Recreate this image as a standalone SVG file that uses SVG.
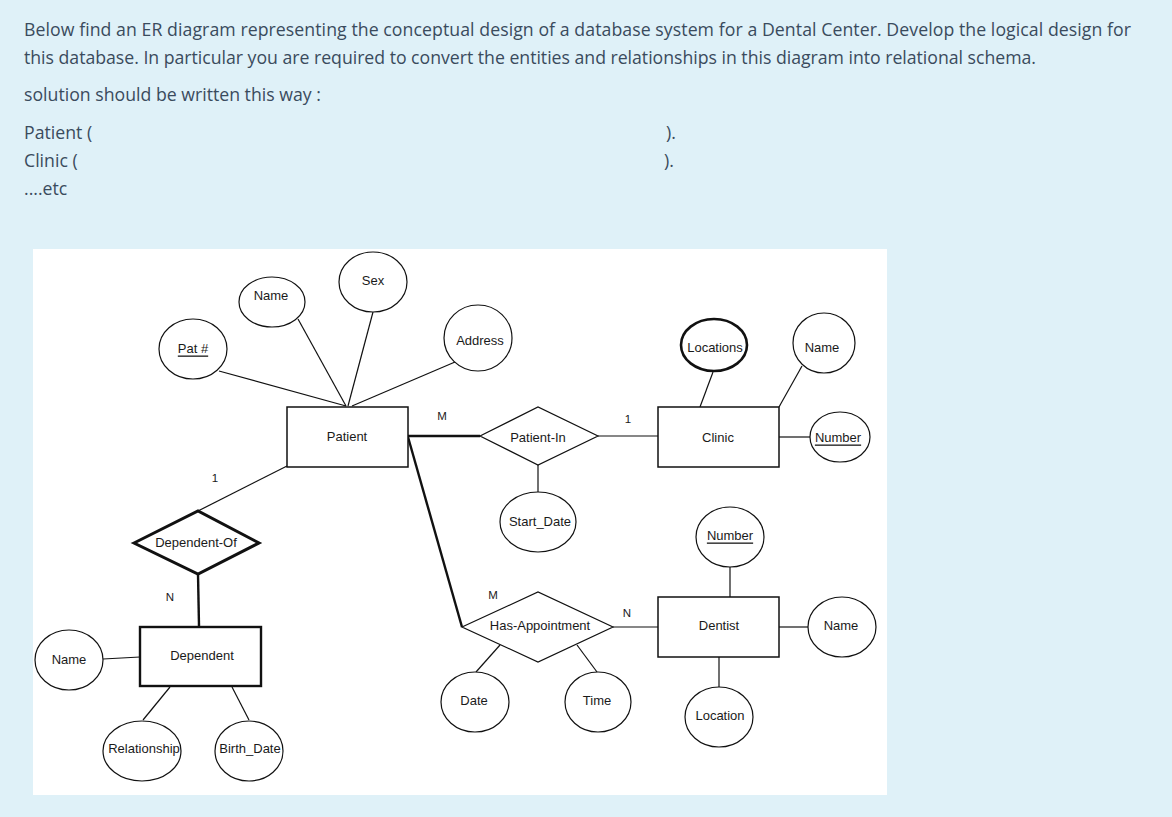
<svg xmlns="http://www.w3.org/2000/svg" width="1172" height="817" viewBox="0 0 1172 817">
<style>
.q{font-family:"Open Sans","Noto Sans","Liberation Sans",sans-serif;font-size:17.7px;fill:#3a4b5d}
.t{font-family:"Liberation Sans",Arial,sans-serif;font-size:13px;fill:#1a1a1a;text-anchor:middle;dominant-baseline:central}
.c{font-family:"Liberation Sans",Arial,sans-serif;font-size:11.5px;fill:#1a1a1a;text-anchor:middle;dominant-baseline:central}
.e{fill:#fff;stroke:#111;stroke-width:1.2}
.ent{fill:#fff;stroke:#111;stroke-width:1.5}
.rel{fill:#fff;stroke:#111;stroke-width:1.2}
.ln{stroke:#111;stroke-width:1.2;fill:none}
.thick{stroke:#111;stroke-width:2.4;fill:none}
.u{text-decoration:underline}
</style>
<rect x="0" y="0" width="1172" height="817" fill="#dff1f8"/>
<g id="question">
<text class="q" x="24" y="36" textLength="1107">Below find an ER diagram representing the conceptual design of a database system for a Dental Center. Develop the logical design for</text>
<text class="q" x="24" y="64" textLength="1012">this database. In particular you are required to convert the entities and relationships in this diagram into relational schema.</text>
<text class="q" x="24" y="101">solution should be written this way :</text>
<text class="q" x="24" y="139">Patient (</text>
<text class="q" x="666" y="139">).</text>
<text class="q" x="24" y="167">Clinic (</text>
<text class="q" x="664" y="167">).</text>
<text class="q" x="24" y="195">....etc</text>
</g>
<rect x="33" y="249" width="854" height="546" fill="#fff"/>
<g id="connectors">
<line class="ln" x1="219" y1="371" x2="346" y2="406"/>
<line class="ln" x1="298" y1="319" x2="346" y2="406"/>
<line class="ln" x1="373" y1="312" x2="348" y2="406"/>
<line class="ln" x1="455" y1="362" x2="352" y2="406"/>
<line class="thick" x1="408" y1="436" x2="480" y2="436"/>
<line class="ln" x1="598" y1="436" x2="658" y2="436"/>
<line class="ln" x1="713" y1="372" x2="700" y2="407"/>
<line class="ln" x1="802" y1="366" x2="779" y2="407"/>
<line class="ln" x1="779" y1="437" x2="810" y2="437"/>
<line class="ln" x1="538" y1="465" x2="538" y2="493"/>
<line class="ln" x1="198" y1="511" x2="287" y2="466"/>
<line class="thick" x1="198" y1="574" x2="199" y2="626"/>
<line class="ln" x1="103" y1="659" x2="140" y2="657"/>
<line class="ln" x1="143" y1="720" x2="170" y2="687"/>
<line class="ln" x1="249" y1="720" x2="232" y2="687"/>
<line class="thick" x1="408" y1="437" x2="462" y2="627"/>
<line class="ln" x1="613" y1="627" x2="658" y2="627"/>
<line class="ln" x1="730" y1="567" x2="730" y2="597"/>
<line class="ln" x1="779" y1="627" x2="808" y2="627"/>
<line class="ln" x1="719" y1="657" x2="719" y2="687"/>
<line class="ln" x1="476" y1="672" x2="500" y2="645"/>
<line class="ln" x1="597" y1="672" x2="577" y2="645"/>
<text class="c" x="442" y="416">M</text>
<text class="c" x="628" y="419">1</text>
<text class="c" x="215" y="478">1</text>
<text class="c" x="170" y="597">N</text>
<text class="c" x="493" y="595">M</text>
<text class="c" x="627" y="613">N</text>
</g>
<g id="patient"><rect class="ent" x="287" y="407" width="121" height="60"/><text class="t" x="347" y="436">Patient</text></g>
<g id="patient-name"><ellipse class="e" cx="272" cy="302" rx="33" ry="25"/><text class="t" x="271" y="295">Name</text></g>
<g id="patient-sex"><ellipse class="e" cx="373" cy="282" rx="34" ry="30"/><text class="t" x="373" y="280">Sex</text></g>
<g id="patient-pat"><ellipse class="e" cx="193" cy="349" rx="34" ry="30"/><text class="t u" x="193" y="348">Pat #</text></g>
<g id="patient-address"><ellipse class="e" cx="478" cy="338" rx="34" ry="33"/><text class="t" x="480" y="340">Address</text></g>
<g id="patient-in"><polygon class="rel" points="480,436 538,407 598,436 538,465"/><text class="t" x="538" y="437">Patient-In</text></g>
<g id="start-date"><ellipse class="e" cx="538" cy="522" rx="38" ry="30"/><text class="t" x="540" y="521">Start_Date</text></g>
<g id="clinic"><rect class="ent" x="658" y="407" width="121" height="60"/><text class="t" x="718" y="437">Clinic</text></g>
<g id="clinic-locations"><ellipse cx="714" cy="345" rx="33" ry="26" fill="#fff" stroke="#111" stroke-width="2.6"/><text class="t" x="715" y="347">Locations</text></g>
<g id="clinic-name"><ellipse class="e" cx="824" cy="343" rx="31" ry="30"/><text class="t" x="822" y="347">Name</text></g>
<g id="clinic-number"><ellipse class="e" cx="840" cy="437" rx="30" ry="25"/><text class="t u" x="838" y="437">Number</text></g>
<g id="dependent-of"><polygon points="134,543 198,511 259,543 198,574" fill="#fff" stroke="#111" stroke-width="3"/><text class="t" x="196" y="542">Dependent-Of</text></g>
<g id="dependent"><rect x="140" y="627" width="121" height="59" fill="#fff" stroke="#111" stroke-width="2.4"/><text class="t" x="202" y="655">Dependent</text></g>
<g id="dependent-name"><ellipse class="e" cx="69" cy="660" rx="34" ry="30"/><text class="t" x="69" y="659">Name</text></g>
<g id="dependent-relationship"><ellipse class="e" cx="142" cy="751" rx="39" ry="30"/><text class="t" x="144" y="748">Relationship</text></g>
<g id="dependent-birthdate"><ellipse class="e" cx="249" cy="751" rx="34" ry="30"/><text class="t" x="250" y="748">Birth_Date</text></g>
<g id="has-appointment"><polygon class="rel" points="462,627 538,592 613,627 538,662"/><text class="t" x="540" y="625">Has-Appointment</text></g>
<g id="appt-date"><ellipse class="e" cx="475" cy="702" rx="34" ry="30"/><text class="t" x="474" y="700">Date</text></g>
<g id="appt-time"><ellipse class="e" cx="598" cy="702" rx="33" ry="30"/><text class="t" x="597" y="700">Time</text></g>
<g id="dentist"><rect class="ent" x="658" y="597" width="121" height="60"/><text class="t" x="719" y="625">Dentist</text></g>
<g id="dentist-number"><ellipse class="e" cx="730" cy="537" rx="34" ry="30"/><text class="t u" x="730" y="535">Number</text></g>
<g id="dentist-name"><ellipse class="e" cx="842" cy="627" rx="34" ry="30"/><text class="t" x="841" y="625">Name</text></g>
<g id="dentist-location"><ellipse class="e" cx="719" cy="717" rx="34" ry="30"/><text class="t" x="720" y="715">Location</text></g>
</svg>
